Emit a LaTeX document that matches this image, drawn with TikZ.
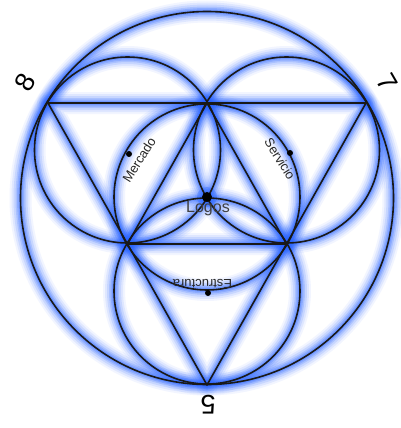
\documentclass[tikz,border=0pt]{standalone}
\usepackage{fontspec}
\setmainfont{Liberation Sans}
\usetikzlibrary{calc}
\definecolor{glowblue}{RGB}{40,100,255}
\definecolor{textgray}{RGB}{40,40,40}
\newcommand\mypaths[1]{%
  \draw[#1] (BC) circle[radius=186.5];
  \draw[#1] (V8) -- (V7) -- (V5) -- cycle;
  \draw[#1] (MT) -- (ML) -- (MR) -- cycle;
  \draw[#1] (CL) circle[radius=93];
  \draw[#1] (CR) circle[radius=93];
  \draw[#1] (CB) circle[radius=93];
  \draw[#1] (O) circle[radius=93];
}
\begin{document}
\begin{tikzpicture}[x=1pt,y=-1pt,
  glow/.style 2 args={line width=#1pt, draw=glowblue, opacity=#2, line join=round},
  blackline/.style={line width=1.6pt, draw=black!90, line join=round},
  dot/.style={circle, fill=black, inner sep=0pt, minimum size=#1},
  lbl/.style={font=\fontsize{13}{13}\selectfont, text=textgray, inner sep=0pt},
  num/.style={font=\fontsize{27}{27}\selectfont, text=black, inner sep=0pt}]
\useasboundingbox[fill=white] (0,0) rectangle (401,428);
\coordinate (BC) at (207,198);
\coordinate (V8) at (48,103);
\coordinate (V7) at (366,103);
\coordinate (V5) at (207,385);
\coordinate (MT) at ($(V8)!0.5!(V7)$);
\coordinate (ML) at ($(V8)!0.5!(V5)$);
\coordinate (MR) at ($(V7)!0.5!(V5)$);
\coordinate (O) at ($1/3*(MT)+1/3*(ML)+1/3*(MR)$);
\coordinate (CL) at ($1/3*(V8)+1/3*(MT)+1/3*(ML)$);
\coordinate (CR) at ($1/3*(V7)+1/3*(MT)+1/3*(MR)$);
\coordinate (CB) at ($1/3*(V5)+1/3*(ML)+1/3*(MR)$);
% glow
\mypaths{glow={22}{0.06}}
\mypaths{glow={18}{0.09}}
\mypaths{glow={14}{0.13}}
\mypaths{glow={10}{0.18}}
\mypaths{glow={7}{0.22}}
\mypaths{glow={4}{0.28}}
\fill[glowblue, opacity=0.3] (O) circle[radius=10];
% lines
\mypaths{blackline}
% dots
\node[dot=10pt] (logosdot) at (O) {};
\node[dot=6pt] (mdot) at (129,154) {};
\node[dot=6pt] (sdot) at (290,153) {};
\node[dot=6pt] (edot) at (208,293) {};
% labels
\node[lbl, font=\fontsize{16}{16}\selectfont, text=black!75] (logos) at (208,209) {Logos};
\node[lbl, rotate=58] (mercado) at (139,160) {Mercado};
\node[lbl, rotate=-58] (servicio) at (280,159) {Servicio};
\node[lbl, rotate=180] (estructura) at (202.5,284) {Estructura};
\node[num, rotate=60] (n8) at (25,82) {8};
\node[num, rotate=-60] (n7) at (387,82) {7};
\node[num, rotate=180] (n5) at (208,405) {5};
\end{tikzpicture}
\end{document}
